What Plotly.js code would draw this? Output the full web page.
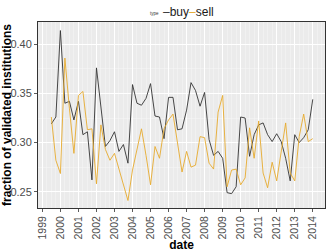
<!DOCTYPE html>
<html>
<head>
<meta charset="utf-8">
<script src="https://cdn.plot.ly/plotly-3.0.1.min.js"></script>
<style>html,body{margin:0;padding:0;background:#fff;}#chart{width:328px;height:252px;}</style>
</head>
<body>
<div id="chart"></div>
<script>
const dates = [
  "1999-07-01","1999-10-01",
  "2000-01-01","2000-04-01","2000-07-01","2000-10-01",
  "2001-01-01","2001-04-01","2001-07-01","2001-10-01",
  "2002-01-01","2002-04-01","2002-07-01","2002-10-01",
  "2003-01-01","2003-04-01","2003-07-01","2003-10-01",
  "2004-01-01","2004-04-01","2004-07-01","2004-10-01",
  "2005-01-01","2005-04-01","2005-07-01","2005-10-01",
  "2006-01-01","2006-04-01","2006-07-01","2006-10-01",
  "2007-01-01","2007-04-01","2007-07-01","2007-10-01",
  "2008-01-01","2008-04-01","2008-07-01","2008-10-01",
  "2009-01-01","2009-04-01","2009-07-01","2009-10-01",
  "2010-01-01","2010-04-01","2010-07-01","2010-10-01",
  "2011-01-01","2011-04-01","2011-07-01","2011-10-01",
  "2012-01-01","2012-04-01","2012-07-01","2012-10-01",
  "2013-01-01","2013-04-01","2013-07-01","2013-10-01",
  "2014-01-01"
];
const buy = [
  0.319, 0.326,
  0.414, 0.340, 0.342, 0.323,
  0.342, 0.308, 0.311, 0.262,
  0.376, 0.333, 0.296, 0.302,
  0.311, 0.291, 0.298, 0.279,
  0.359, 0.340, 0.338, 0.345,
  0.360, 0.327, 0.326, 0.304,
  0.346, 0.346, 0.313, 0.314,
  0.333, 0.361, 0.353, 0.337,
  0.351, 0.303, 0.287, 0.291,
  0.284, 0.249, 0.248, 0.255,
  0.326, 0.325, 0.286, 0.308,
  0.318, 0.320, 0.308, 0.301,
  0.309, 0.301, 0.284, 0.261,
  0.308, 0.300, 0.305, 0.313,
  0.344
];
const sell = [
  0.326, 0.282,
  0.2685, 0.386, 0.335, 0.289,
  0.348, 0.352, 0.313, 0.314,
  0.258, 0.318, 0.293, 0.282,
  0.289, 0.274, 0.257, 0.241,
  0.272, 0.293, 0.314, 0.287,
  0.257, 0.296, 0.284, 0.314,
  0.323, 0.329, 0.300, 0.270,
  0.291, 0.275, 0.277, 0.306,
  0.305, 0.279, 0.273, 0.331,
  0.348, 0.255, 0.272, 0.273,
  0.257, 0.264, 0.315, 0.284,
  0.322, 0.269, 0.254, 0.280,
  0.261, 0.291, 0.320, 0.269,
  0.261, 0.306, 0.329, 0.301,
  0.304
];
const seriesNames = ["buy", "sell"];
const legendTitle = "type";
const xTitle = "date";
const yTitle = "fraction of validated institutions";

const buyColor = "#333333";
const sellColor = "#E6AA2E";
const font = "Liberation Sans, Arial, sans-serif";

const traces = [
  {x: dates, y: buy, name: seriesNames[0], type: "scatter", mode: "lines",
   line: {color: buyColor, width: 0.9}},
  {x: dates, y: sell, name: seriesNames[1], type: "scatter", mode: "lines",
   line: {color: sellColor, width: 0.9}}
];

const layout = {
  width: 328, height: 252,
  margin: {l: 38, r: 3, t: 22, b: 44, pad: 0},
  paper_bgcolor: "#ffffff",
  plot_bgcolor: "#EBEBEB",
  showlegend: false,
  font: {family: font, color: "#4D4D4D", size: 11},
  xaxis: {
    type: "date",
    range: ["1998-10-04", "2014-09-06"],
    dtick: "M12", tick0: "1999-01-01",
    tickformat: "%Y", tickangle: -90,
    tickfont: {size: 10.5, color: "#4D4D4D"},
    ticks: "outside", ticklen: 3, tickcolor: "#333333", tickwidth: 0.8,
    showgrid: true, gridcolor: "#ffffff", gridwidth: 1,
    minor: {dtick: "M3", showgrid: true, gridcolor: "#F8F8F8", gridwidth: 0.5, ticks: ""},
    showline: true, mirror: true, linecolor: "#333333", linewidth: 1,
    zeroline: false,
    title: {text: xTitle, font: {size: 12, color: "#000000", weight: "bold"}, standoff: 2}
  },
  yaxis: {
    range: [0.2334, 0.4227],
    dtick: 0.05, tick0: 0.25,
    tickformat: ".2f",
    tickfont: {size: 11, color: "#4D4D4D"},
    ticks: "outside", ticklen: 3, tickcolor: "#333333", tickwidth: 0.8,
    showgrid: true, gridcolor: "#ffffff", gridwidth: 1,
    minor: {dtick: 0.025, showgrid: true, gridcolor: "#F8F8F8", gridwidth: 0.5, ticks: ""},
    showline: true, mirror: true, linecolor: "#333333", linewidth: 1,
    zeroline: false,
    title: {text: yTitle, font: {size: 12, color: "#000000", weight: "bold"}, standoff: 2}
  },
  annotations: [
    {xref: "paper", yref: "paper", x: 0.427, y: 1.0, yshift: 9, xanchor: "right", yanchor: "middle",
     text: legendTitle, showarrow: false, font: {size: 4.5, color: "#333333"}},
    {xref: "paper", yref: "paper", x: 0.43, y: 1.0, yshift: 10, xanchor: "left", yanchor: "middle",
     text: "<span style=\"color:" + buyColor + "\">–</span>" + seriesNames[0] +
           "<span style=\"color:" + sellColor + "\">–</span>" + seriesNames[1],
     showarrow: false, font: {size: 12, color: "#1a1a1a"}}
  ]
};

Plotly.newPlot("chart", traces, layout, {displayModeBar: false, staticPlot: true});
</script>
</body>
</html>
